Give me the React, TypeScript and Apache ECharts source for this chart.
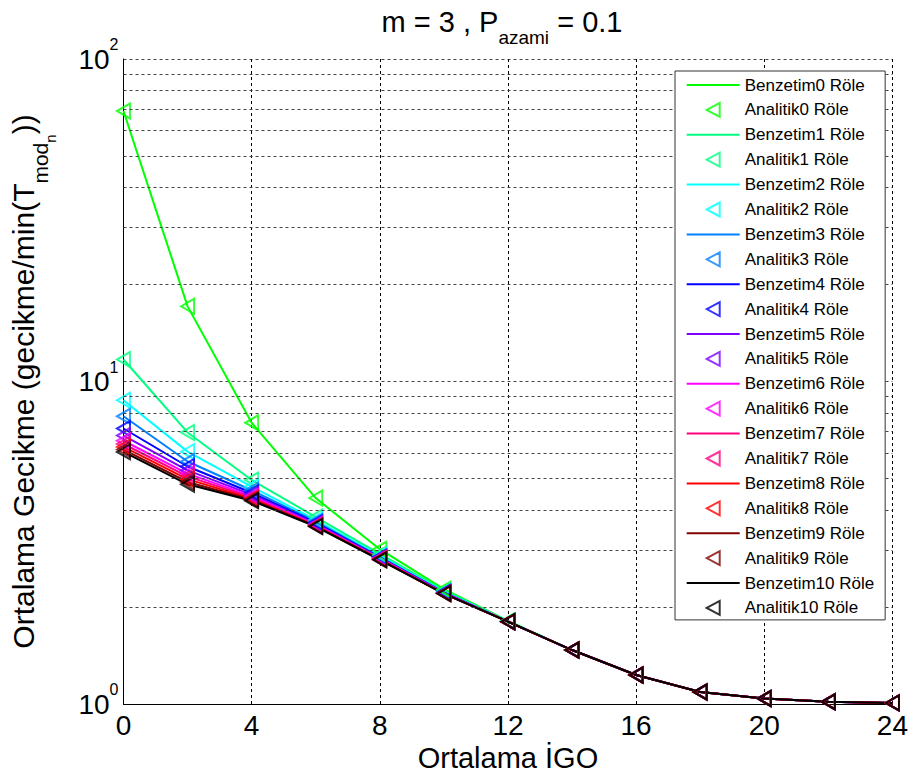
import React, { useEffect, useRef } from 'react';
import * as echarts from 'echarts';

// ---- data ----
const xValues = [0, 2, 4, 6, 8, 10, 12, 14, 16, 18, 20, 22, 24];

const sim0 = [69, 17.1, 7.45, 4.35, 3.02, 2.27, 1.81, 1.47, 1.23, 1.09, 1.04, 1.016, 1.008];
const sim1 = [11.7, 6.95, 4.95, 3.8, 2.92, 2.25, 1.81, 1.47, 1.23, 1.09, 1.04, 1.016, 1.008];
const sim2 = [8.75, 6.06, 4.72, 3.72, 2.88, 2.23, 1.8, 1.47, 1.23, 1.09, 1.04, 1.016, 1.008];
const sim3 = [7.8, 5.65, 4.6, 3.68, 2.86, 2.22, 1.8, 1.47, 1.23, 1.09, 1.04, 1.016, 1.008];
const sim4 = [7.15, 5.45, 4.52, 3.65, 2.85, 2.22, 1.8, 1.47, 1.23, 1.09, 1.04, 1.016, 1.008];
const sim5 = [6.8, 5.3, 4.46, 3.62, 2.84, 2.21, 1.8, 1.47, 1.23, 1.09, 1.04, 1.016, 1.008];
const sim6 = [6.55, 5.18, 4.41, 3.6, 2.83, 2.21, 1.8, 1.47, 1.23, 1.09, 1.04, 1.016, 1.008];
const sim7 = [6.4, 5.08, 4.37, 3.58, 2.82, 2.2, 1.8, 1.47, 1.23, 1.09, 1.04, 1.016, 1.008];
const sim8 = [6.27, 4.98, 4.33, 3.57, 2.81, 2.2, 1.8, 1.47, 1.23, 1.09, 1.04, 1.016, 1.008];
const sim9 = [6.15, 4.88, 4.3, 3.56, 2.8, 2.2, 1.8, 1.47, 1.23, 1.09, 1.04, 1.016, 1.008];
const sim10 = [6.05, 4.8, 4.27, 3.55, 2.8, 2.2, 1.8, 1.47, 1.23, 1.09, 1.04, 1.016, 1.008];

// analytic markers sit on the simulation vertices
const ana0 = sim0;
const ana1 = sim1;
const ana2 = sim2;
const ana3 = sim3;
const ana4 = sim4;
const ana5 = sim5;
const ana6 = sim6;
const ana7 = sim7;
const ana8 = sim8;
const ana9 = sim9;
const ana10 = sim10;

const simSeries = [sim0, sim1, sim2, sim3, sim4, sim5, sim6, sim7, sim8, sim9, sim10];
const anaSeries = [ana0, ana1, ana2, ana3, ana4, ana5, ana6, ana7, ana8, ana9, ana10];

const colors = [
  '#00ff00', '#00ff80', '#00ffff', '#0080ff', '#0000ff', '#8000ff',
  '#ff00ff', '#ff0080', '#ff0000', '#800000', '#000000',
];

const simNames = simSeries.map((_, i) => `Benzetim${i} Röle`);
const anaNames = anaSeries.map((_, i) => `Analitik${i} Röle`);

const minorGridValues = [2, 3, 4, 5, 6, 7, 8, 9, 20, 30, 40, 50, 60, 70, 80, 90];

const FONT = '"Liberation Sans", Arial, sans-serif';
const TRI = 'path://M0,7L13,0L13,14Z';
const LINE_ICON = 'path://M0,0H53V2H0Z';

export default function App() {
  const ref = useRef<HTMLDivElement>(null);

  useEffect(() => {
    if (!ref.current) return;
    const chart = echarts.init(ref.current, null, { renderer: 'svg' });

    const series: any[] = [
      {
        type: 'line',
        name: '_grid',
        data: [],
        silent: true,
        z: 1,
        markLine: {
          silent: true,
          symbol: ['none', 'none'],
          label: { show: false },
          lineStyle: { type: [3, 3], color: '#444', width: 1 },
          emphasis: { disabled: true },
          data: minorGridValues.map((v) => ({ yAxis: v })),
        },
      },
    ];
    simSeries.forEach((vals, i) => {
      series.push({
        type: 'line',
        name: simNames[i],
        data: xValues.map((x, j) => [x, vals[j]]),
        symbol: 'none',
        lineStyle: { color: colors[i], width: 2 },
        itemStyle: { color: colors[i] },
        emphasis: { disabled: true },
        z: 2,
      });
      series.push({
        type: 'scatter',
        name: anaNames[i],
        data: xValues.map((x, j) => [x, anaSeries[i][j]]),
        symbol: TRI,
        symbolSize: [13, 15],
        itemStyle: { color: 'rgba(255,255,255,0)', borderColor: colors[i], borderWidth: 2 },
        emphasis: { disabled: true },
        z: 2,
      });
    });

    const legendData: any[] = [];
    simNames.forEach((n, i) => {
      legendData.push({ name: n, icon: LINE_ICON, itemStyle: { color: colors[i] } });
      legendData.push({ name: anaNames[i] });
    });

    const option: any = {
      animation: false,
      backgroundColor: '#fff',
      textStyle: { fontFamily: FONT },
      title: {
        text: '{m|m = 3 , P}{s|azami}{m| = 0.1}',
        left: 502,
        top: 7.5,
        padding: 0,
        textAlign: 'center',
        textStyle: {
          fontFamily: FONT,
          fontWeight: 'normal',
          color: '#000',
          rich: {
            m: { fontSize: 29, fontFamily: FONT, color: '#000', verticalAlign: 'top' },
            s: { fontSize: 19, fontFamily: FONT, color: '#000', verticalAlign: 'top', padding: [20, 0, 0, 0] },
          },
        },
      },
      legend: {
        orient: 'vertical',
        left: 675,
        top: 71,
        data: legendData,
        itemWidth: 53,
        itemHeight: 14,
        itemGap: 7.9,
        padding: [5.5, 11, 3.5, 11.7],
        backgroundColor: '#fff',
        borderColor: '#333',
        borderWidth: 1,
        selectedMode: false,
        symbolKeepAspect: true,
        textStyle: { fontFamily: FONT, fontSize: 17, color: '#000' },
        z: 10,
      },
      grid: { left: 121, right: 16, top: 59, bottom: 74, containLabel: false },
      xAxis: {
        type: 'value',
        min: 0,
        max: 24,
        interval: 4,
        name: 'Ortalama İGO',
        nameLocation: 'middle',
        nameGap: 33,
        nameTextStyle: { fontFamily: FONT, fontSize: 29, color: '#000' },
        axisLine: { show: true, lineStyle: { color: '#000', width: 1 } },
        axisTick: { show: false },
        axisLabel: { fontFamily: FONT, fontSize: 28, color: '#000', margin: 7 },
        splitLine: { show: true, lineStyle: { type: [3, 3], color: '#000', width: 1 } },
      },
      yAxis: {
        type: 'log',
        logBase: 10,
        min: 1,
        max: 100,
        name: '{m|Ortalama Gecikme (gecikme/min(T}{a|mod}{b|n}{m|))}',
        nameLocation: 'middle',
        nameGap: 66,
        nameTextStyle: {
          fontFamily: FONT,
          color: '#000',
          rich: {
            m: { fontSize: 30, fontFamily: FONT, color: '#000', verticalAlign: 'top' },
            a: { fontSize: 21, fontFamily: FONT, color: '#000', verticalAlign: 'top', padding: [21.5, 0, 0, 0] },
            b: { fontSize: 15, fontFamily: FONT, color: '#000', verticalAlign: 'top', padding: [34.5, 0, 0, 0] },
          },
        },
        axisLine: { show: true, lineStyle: { color: '#000', width: 1 } },
        axisTick: { show: false },
        axisLabel: {
          margin: 5,
          formatter: (v: number) => `{b|10}{s|${Math.round(Math.log10(v))}}`,
          rich: {
            b: { fontSize: 28, fontFamily: FONT, color: '#000', verticalAlign: 'middle' },
            s: { fontSize: 16, fontFamily: FONT, color: '#000', verticalAlign: 'top', padding: [0, 0, 29, 0] },
          },
        },
        splitLine: { show: true, lineStyle: { type: [3, 3], color: '#444', width: 1 } },
      },
      series,
    };

    chart.setOption(option);
    return () => chart.dispose();
  }, []);

  return (
    <div
      ref={ref}
      style={{ position: 'fixed', left: 0, top: 0, width: 911, height: 778, background: '#fff' }}
    />
  );
}
